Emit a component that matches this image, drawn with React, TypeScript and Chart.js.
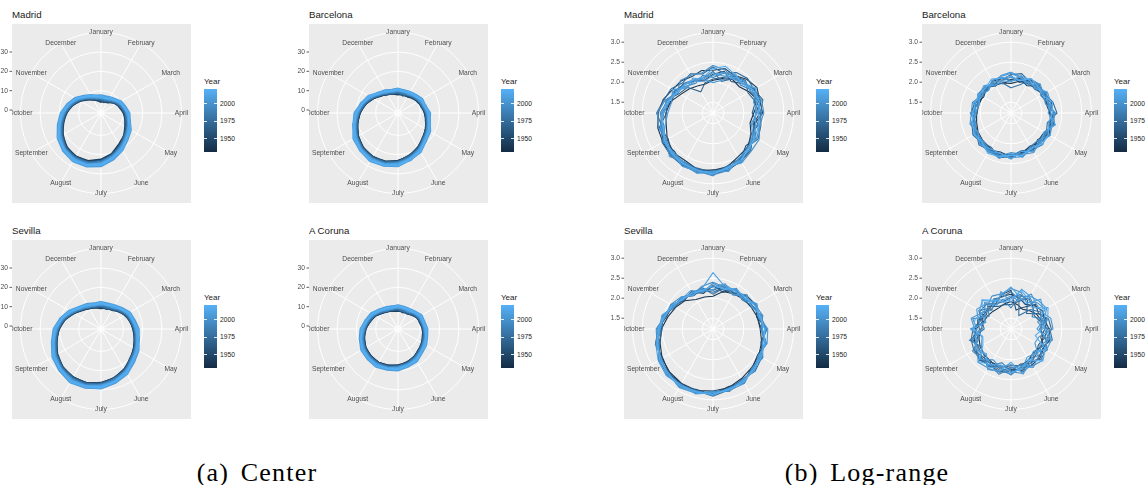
import React, { useEffect, useRef } from "react";
import { Chart, registerables } from "chart.js";

Chart.register(...registerables);

// ---- angular axis -------------------------------------------------------
const MONTHS = [
  "January", "February", "March", "April", "May", "June",
  "July", "August", "September", "October", "November", "December",
];
// two samples per month: the 1st and the 16th
const DAY_LABELS = MONTHS.flatMap((m) => [`1 ${m}`, `16 ${m}`]);

// ---- colour scale (Year) ---------------------------------------------
const YEARS = [1938, 1945, 1952, 1966, 1973, 1980, 1992, 1998, 2002, 2006, 2010, 2018];
const YEAR_MIN = 1931;
const YEAR_MAX = 2021;
const YEAR_TICKS = [1950, 1975, 2000];
const LOW_COLOR = [19, 43, 67]; // #132B43
const HIGH_COLOR = [86, 177, 247]; // #56B1F7

// ---- radial axes -------------------------------------------------------
const CENTER_TICKS = [0, 10, 20, 30];
const CENTER_TICK_LABELS = ["0", "10", "20", "30"];
const LOGRANGE_TICKS = [1.5, 2.0, 2.5, 3.0];
const LOGRANGE_TICK_LABELS = ["1.5", "2.0", "2.5", "3.0"];

// ---- (a) centre of the daily temperature interval, one row per year ----
const MADRID_CENTER = [
  [4.6, 4.9, 5.2, 6.9, 7.6, 9.4, 10.2, 12.1, 13.3, 15.8, 17.6, 20.9, 23.0, 24.7, 24.4, 24.1, 21.3, 19.4, 16.3, 14.4, 11.0, 8.9, 6.4, 5.7],
  [4.3, 5.2, 4.8, 6.5, 8.1, 8.7, 10.5, 11.5, 13.0, 15.4, 17.2, 20.4, 22.6, 24.2, 24.7, 23.5, 21.8, 18.7, 16.8, 13.8, 11.4, 8.2, 6.7, 5.2],
  [5.3, 4.4, 5.9, 6.3, 8.5, 8.9, 11.0, 11.6, 14.1, 15.2, 18.4, 20.5, 23.6, 24.6, 25.3, 23.7, 22.1, 18.9, 17.2, 13.9, 11.8, 8.6, 7.2, 5.5],
  [4.9, 5.6, 5.4, 7.1, 7.9, 9.8, 10.6, 12.4, 13.4, 16.1, 17.9, 21.2, 23.2, 25.1, 24.8, 24.6, 21.6, 19.7, 16.6, 14.8, 11.2, 9.3, 6.8, 6.1],
  [5.5, 5.4, 6.7, 7.3, 8.3, 10.0, 11.4, 12.6, 14.0, 16.0, 18.3, 21.5, 23.5, 25.4, 25.1, 24.9, 22.0, 20.0, 17.0, 15.0, 11.7, 9.5, 7.0, 6.3],
  [5.8, 5.1, 6.3, 6.8, 8.8, 9.5, 11.7, 12.0, 14.5, 15.6, 18.9, 21.0, 24.1, 24.9, 25.6, 24.2, 22.6, 19.3, 17.6, 14.2, 12.3, 8.9, 7.6, 6.0],
  [6.1, 5.9, 6.0, 7.8, 8.7, 10.6, 11.3, 13.3, 14.2, 16.8, 18.6, 22.1, 23.9, 26.0, 25.5, 25.3, 22.2, 20.6, 17.3, 15.6, 12.0, 10.1, 7.4, 6.9],
  [6.9, 6.4, 6.9, 8.2, 9.9, 10.4, 12.2, 13.7, 15.4, 16.9, 19.9, 22.6, 25.0, 26.5, 26.2, 25.7, 23.6, 20.5, 18.6, 15.9, 13.2, 10.5, 8.5, 7.4],
  [6.6, 6.2, 7.0, 7.5, 9.6, 10.2, 12.4, 12.9, 15.2, 16.4, 19.7, 21.6, 24.8, 25.6, 26.4, 24.8, 23.4, 20.1, 18.3, 15.0, 13.1, 9.6, 8.4, 6.6],
  [7.6, 7.3, 7.8, 8.6, 10.4, 11.4, 13.1, 13.8, 16.2, 17.8, 20.6, 23.2, 25.9, 27.0, 27.3, 26.1, 24.3, 21.5, 19.2, 16.4, 13.9, 10.9, 9.1, 7.8],
  [6.3, 6.9, 6.6, 8.4, 9.2, 11.1, 11.9, 13.9, 14.7, 17.5, 19.2, 22.8, 24.5, 26.7, 25.9, 25.9, 22.9, 21.2, 17.9, 16.2, 12.6, 10.7, 7.9, 7.5],
  [7.2, 6.5, 7.5, 8.0, 10.1, 10.7, 12.8, 13.4, 15.8, 17.1, 20.3, 22.4, 25.3, 26.3, 26.9, 25.4, 23.9, 20.8, 18.8, 15.7, 13.5, 10.3, 8.8, 7.2],
];

const BARCELONA_CENTER = [
  [8.4, 8.6, 8.5, 9.8, 10.2, 11.6, 12.3, 14.0, 15.0, 17.2, 19.1, 21.9, 23.2, 24.9, 24.6, 24.4, 22.3, 20.8, 18.2, 16.5, 13.4, 11.6, 9.6, 9.2],
  [8.1, 8.8, 8.3, 9.5, 10.7, 11.3, 12.6, 13.6, 15.3, 16.9, 19.3, 21.5, 23.6, 24.6, 24.8, 24.1, 22.6, 20.4, 18.4, 16.1, 13.6, 11.3, 9.8, 8.9],
  [9.0, 7.9, 9.1, 9.2, 10.9, 11.0, 13.0, 13.4, 15.7, 16.6, 19.8, 21.2, 23.8, 24.4, 25.2, 23.9, 22.9, 20.2, 18.9, 15.9, 14.0, 11.0, 10.1, 8.7],
  [8.7, 9.0, 8.9, 10.1, 10.6, 12.0, 12.7, 14.2, 15.3, 17.5, 19.4, 22.3, 23.5, 25.3, 24.9, 24.7, 22.6, 21.1, 18.5, 16.9, 13.8, 11.9, 9.9, 9.6],
  [9.2, 9.1, 9.3, 10.4, 10.9, 12.3, 13.1, 14.3, 15.9, 17.7, 19.9, 22.4, 24.0, 25.4, 25.3, 24.9, 23.0, 21.3, 19.0, 16.8, 14.3, 12.1, 10.2, 9.5],
  [9.4, 8.5, 9.6, 9.9, 11.2, 11.5, 13.4, 13.9, 16.0, 17.0, 20.1, 21.7, 24.2, 24.9, 25.6, 24.5, 23.3, 20.7, 19.2, 16.4, 14.4, 11.6, 10.5, 9.1],
  [9.8, 9.5, 9.4, 10.7, 11.1, 12.6, 13.2, 14.9, 15.8, 18.2, 19.9, 23.0, 24.1, 25.9, 25.5, 25.4, 23.1, 21.9, 19.0, 17.6, 14.2, 12.7, 10.3, 10.2],
  [10.4, 10.1, 10.5, 10.9, 12.1, 12.9, 14.0, 15.2, 16.5, 18.5, 20.8, 23.3, 24.9, 26.2, 26.1, 25.5, 24.0, 22.0, 19.9, 17.9, 15.0, 12.9, 11.0, 10.5],
  [10.2, 9.7, 10.3, 10.5, 12.0, 12.2, 14.1, 14.5, 16.7, 17.6, 20.9, 22.4, 25.0, 25.6, 26.3, 25.0, 24.1, 21.3, 20.0, 17.1, 15.2, 12.1, 11.2, 9.8],
  [11.0, 10.6, 11.0, 11.6, 12.9, 13.0, 15.0, 15.4, 17.6, 18.8, 21.8, 23.4, 25.9, 26.6, 27.2, 26.0, 25.0, 22.3, 20.9, 18.0, 16.1, 13.1, 12.0, 10.8],
  [9.9, 10.4, 9.9, 11.3, 11.6, 13.2, 13.6, 15.5, 16.3, 18.9, 20.5, 23.6, 24.6, 26.5, 25.9, 26.0, 23.6, 22.5, 19.5, 18.2, 14.8, 13.2, 10.8, 10.7],
  [10.7, 10.0, 10.8, 11.0, 12.5, 12.7, 14.6, 15.0, 17.2, 18.3, 21.4, 23.1, 25.5, 26.1, 26.8, 25.6, 24.5, 21.9, 20.4, 17.6, 15.7, 12.6, 11.6, 10.3],
];

const SEVILLA_CENTER = [
  [9.6, 9.9, 10.3, 11.9, 12.8, 14.5, 15.1, 16.9, 18.1, 20.6, 22.6, 25.2, 26.4, 27.8, 27.3, 26.8, 24.6, 22.9, 20.2, 18.2, 14.7, 12.7, 10.8, 10.4],
  [9.3, 10.0, 9.8, 11.6, 13.3, 14.1, 15.6, 16.6, 18.5, 20.2, 22.8, 24.9, 26.6, 27.4, 27.6, 26.6, 25.0, 22.5, 20.6, 17.9, 15.0, 12.4, 11.0, 10.1],
  [10.2, 9.2, 10.8, 11.3, 13.5, 14.0, 16.0, 16.4, 18.9, 19.9, 23.2, 24.7, 27.0, 27.5, 27.9, 26.4, 25.2, 22.2, 20.9, 17.7, 15.2, 12.2, 11.3, 10.0],
  [9.9, 10.3, 10.1, 12.2, 13.1, 14.8, 15.4, 17.3, 18.4, 21.0, 22.9, 25.6, 26.6, 28.2, 27.6, 27.1, 24.9, 23.2, 20.5, 18.6, 15.0, 13.1, 11.1, 10.7],
  [10.4, 10.4, 10.6, 12.4, 13.6, 15.0, 15.8, 17.6, 18.7, 21.1, 23.3, 25.8, 27.0, 28.3, 28.0, 27.3, 25.3, 23.4, 20.8, 18.9, 15.4, 13.3, 11.6, 10.9],
  [10.6, 9.8, 11.2, 11.9, 14.0, 14.4, 16.4, 16.9, 19.2, 20.3, 23.6, 25.1, 27.5, 27.9, 28.4, 26.9, 25.6, 22.7, 21.3, 18.1, 15.7, 12.7, 11.8, 10.4],
  [11.0, 10.8, 10.9, 13.0, 13.9, 15.5, 16.0, 18.2, 19.0, 21.8, 23.5, 26.4, 27.3, 29.0, 28.3, 28.0, 25.4, 24.0, 21.0, 19.4, 15.5, 13.9, 11.5, 11.4],
  [11.7, 11.3, 11.9, 13.4, 14.9, 15.6, 17.0, 18.5, 20.0, 21.9, 24.5, 26.8, 28.3, 29.3, 29.1, 28.4, 26.5, 24.2, 22.1, 19.7, 16.7, 14.1, 12.6, 11.8],
  [11.5, 11.1, 11.8, 12.6, 14.8, 15.1, 16.9, 17.5, 19.8, 21.0, 24.4, 25.9, 28.2, 28.7, 29.3, 27.6, 26.4, 23.4, 22.0, 18.9, 16.5, 13.3, 12.5, 11.0],
  [12.4, 12.0, 12.6, 13.7, 15.6, 16.4, 17.9, 18.6, 20.8, 22.6, 25.3, 27.2, 29.1, 29.9, 30.3, 28.8, 27.4, 24.7, 22.9, 20.1, 17.4, 14.5, 13.3, 12.1],
  [11.2, 11.7, 11.4, 13.5, 14.3, 16.0, 16.5, 18.7, 19.5, 22.4, 24.0, 27.0, 27.8, 29.6, 28.9, 28.6, 26.0, 24.6, 21.6, 20.0, 16.1, 14.4, 12.0, 11.9],
  [12.0, 11.4, 12.3, 13.1, 15.3, 15.7, 17.4, 18.1, 20.3, 21.7, 24.9, 26.6, 28.7, 29.2, 29.8, 28.1, 26.9, 24.0, 22.5, 19.4, 17.0, 13.9, 12.9, 11.6],
];

const CORUNA_CENTER = [
  [8.2, 8.0, 8.0, 9.3, 10.0, 10.8, 11.2, 12.3, 12.7, 14.1, 15.1, 16.7, 17.3, 18.5, 18.6, 18.8, 17.8, 17.1, 15.2, 14.1, 12.1, 10.7, 9.0, 8.9],
  [7.9, 8.4, 7.7, 9.0, 10.4, 10.5, 11.6, 11.8, 13.1, 13.8, 15.4, 16.5, 17.6, 18.0, 18.7, 18.4, 18.0, 16.8, 15.6, 13.6, 12.3, 10.2, 9.1, 8.3],
  [8.7, 7.5, 8.4, 8.8, 10.5, 10.3, 11.8, 11.9, 13.3, 13.6, 15.7, 16.3, 17.9, 18.2, 19.0, 18.3, 18.4, 16.6, 15.8, 13.5, 12.6, 10.3, 9.4, 8.4],
  [8.4, 8.3, 8.1, 9.6, 10.3, 11.1, 11.5, 12.5, 13.0, 14.4, 15.4, 17.0, 17.6, 18.8, 18.9, 19.1, 18.1, 17.4, 15.5, 14.5, 12.4, 11.0, 9.2, 9.2],
  [8.9, 8.6, 8.5, 9.8, 10.6, 11.4, 11.8, 12.8, 13.3, 14.7, 15.7, 17.3, 17.9, 19.0, 19.1, 19.3, 18.4, 17.6, 15.8, 14.7, 12.7, 11.2, 9.5, 9.4],
  [9.1, 8.2, 8.8, 9.4, 10.8, 10.8, 12.1, 12.3, 13.6, 14.1, 16.0, 16.8, 18.2, 18.6, 19.3, 18.8, 18.7, 17.1, 16.1, 14.0, 12.9, 10.7, 9.7, 8.8],
  [9.4, 9.1, 8.7, 10.2, 10.9, 11.8, 11.9, 13.2, 13.5, 15.1, 15.9, 17.7, 18.1, 19.4, 19.3, 19.8, 18.6, 18.1, 15.9, 15.2, 12.8, 11.8, 9.6, 9.9],
  [10.0, 9.6, 9.7, 10.5, 11.8, 12.1, 12.9, 13.5, 14.4, 15.5, 17.0, 18.0, 19.0, 19.7, 20.3, 20.1, 19.6, 18.4, 17.0, 15.4, 13.8, 12.0, 10.6, 10.2],
  [9.9, 9.4, 9.5, 10.1, 11.6, 11.5, 12.7, 13.0, 14.3, 14.8, 16.8, 17.4, 18.8, 19.1, 20.1, 19.4, 19.4, 17.7, 16.8, 14.7, 13.6, 11.3, 10.4, 9.4],
  [10.7, 10.3, 10.4, 11.1, 12.5, 12.6, 13.6, 14.0, 15.2, 15.9, 17.8, 18.5, 19.8, 20.2, 21.0, 20.5, 20.3, 18.9, 17.8, 15.8, 14.5, 12.5, 11.3, 10.5],
  [9.6, 10.1, 9.2, 10.8, 11.3, 12.3, 12.4, 13.8, 14.0, 15.7, 16.5, 18.3, 18.6, 19.9, 19.8, 20.4, 19.0, 18.7, 16.4, 15.8, 13.3, 12.4, 10.0, 10.4],
  [10.4, 9.8, 10.0, 10.6, 12.1, 12.0, 13.2, 13.5, 14.8, 15.4, 17.3, 18.0, 19.3, 19.6, 20.6, 19.9, 19.9, 18.3, 17.3, 15.2, 14.1, 11.9, 10.9, 9.9],
];

// ---- (b) log of the daily temperature range, one row per year ----------
const MADRID_LOGRANGE = [
  [2.05, 2.12, 2.20, 2.16, 2.28, 2.41, 2.25, 2.19, 2.33, 2.45, 2.49, 2.62, 2.66, 2.70, 2.61, 2.63, 2.55, 2.44, 2.41, 2.33, 2.16, 2.08, 2.01, 1.98],
  [2.30, 2.38, 2.31, 2.42, 2.50, 2.44, 2.47, 2.30, 2.38, 2.56, 2.62, 2.70, 2.76, 2.74, 2.72, 2.70, 2.68, 2.66, 2.60, 2.52, 2.40, 2.36, 2.28, 2.33],
  [2.20, 2.31, 2.14, 2.27, 2.43, 2.30, 2.40, 2.28, 2.47, 2.39, 2.60, 2.71, 2.65, 2.77, 2.73, 2.59, 2.66, 2.58, 2.52, 2.30, 2.33, 2.25, 2.15, 2.07],
  [2.08, 2.15, 2.29, 2.38, 2.24, 2.33, 2.21, 2.40, 2.31, 2.52, 2.55, 2.60, 2.74, 2.68, 2.66, 2.71, 2.52, 2.62, 2.39, 2.45, 2.20, 2.14, 1.84, 2.01],
  [2.38, 2.26, 2.40, 2.45, 2.41, 2.52, 2.42, 2.47, 2.53, 2.44, 2.56, 2.68, 2.72, 2.66, 2.75, 2.73, 2.70, 2.55, 2.64, 2.50, 2.44, 2.30, 2.36, 2.24],
  [2.27, 2.05, 2.22, 2.33, 2.40, 2.47, 2.31, 2.26, 2.44, 2.50, 2.63, 2.68, 2.69, 2.75, 2.76, 2.63, 2.63, 2.50, 2.55, 2.41, 2.29, 2.27, 2.19, 2.14],
  [2.12, 2.26, 2.31, 2.21, 2.37, 2.35, 2.45, 2.37, 2.36, 2.55, 2.53, 2.72, 2.77, 2.70, 2.68, 2.68, 2.58, 2.57, 2.46, 2.36, 2.35, 2.18, 2.09, 2.21],
  [2.42, 2.35, 2.24, 2.37, 2.31, 2.49, 2.50, 2.44, 2.56, 2.58, 2.67, 2.61, 2.80, 2.73, 2.64, 2.77, 2.59, 2.64, 2.62, 2.47, 2.26, 2.38, 2.32, 2.27],
  [2.24, 2.19, 2.27, 2.35, 2.32, 2.44, 2.36, 2.43, 2.50, 2.46, 2.66, 2.64, 2.72, 2.79, 2.72, 2.70, 2.64, 2.53, 2.50, 2.43, 2.24, 2.23, 2.17, 2.11],
  [1.99, 2.08, 2.36, 2.25, 2.47, 2.28, 2.34, 2.22, 2.39, 2.47, 2.53, 2.74, 2.68, 2.78, 2.67, 2.62, 2.67, 2.47, 2.36, 2.30, 2.40, 2.12, 2.24, 2.09],
  [2.17, 2.28, 2.21, 2.29, 2.46, 2.37, 2.29, 2.33, 2.42, 2.51, 2.59, 2.69, 2.71, 2.73, 2.77, 2.65, 2.61, 2.59, 2.47, 2.37, 2.30, 2.16, 2.14, 2.05],
  [2.34, 2.44, 2.34, 2.26, 2.39, 2.42, 2.38, 2.41, 2.45, 2.49, 2.62, 2.65, 2.75, 2.71, 2.70, 2.67, 2.62, 2.52, 2.53, 2.39, 2.26, 2.24, 2.20, 2.16],
];

const BARCELONA_LOGRANGE = [
  [1.97, 2.05, 2.08, 2.10, 2.15, 2.28, 2.18, 2.35, 2.19, 2.20, 2.21, 2.25, 2.28, 2.38, 2.25, 2.22, 2.18, 2.12, 2.09, 2.06, 2.05, 2.14, 2.03, 2.01],
  [2.07, 2.12, 2.02, 2.19, 2.22, 2.14, 2.20, 2.26, 2.33, 2.27, 2.18, 2.28, 2.33, 2.24, 2.30, 2.36, 2.23, 2.15, 2.23, 2.17, 2.02, 2.10, 2.09, 1.99],
  [2.16, 2.02, 2.19, 2.23, 2.11, 2.16, 2.30, 2.21, 2.31, 2.17, 2.33, 2.24, 2.37, 2.29, 2.35, 2.31, 2.27, 2.26, 2.12, 2.18, 2.08, 2.06, 2.15, 2.12],
  [2.04, 2.18, 2.10, 2.13, 2.25, 2.19, 2.22, 2.31, 2.22, 2.29, 2.23, 2.35, 2.26, 2.31, 2.28, 2.25, 2.21, 2.17, 2.20, 2.10, 2.15, 2.09, 2.05, 2.14],
  [2.19, 2.25, 2.14, 2.07, 2.19, 2.31, 2.38, 2.17, 2.25, 2.35, 2.29, 2.21, 2.31, 2.39, 2.22, 2.27, 2.33, 2.24, 2.07, 2.09, 2.18, 2.15, 2.00, 2.08],
  [1.86, 1.95, 2.16, 2.20, 2.18, 2.25, 2.27, 2.24, 2.28, 2.23, 2.30, 2.28, 2.34, 2.35, 2.33, 2.30, 2.25, 2.22, 2.14, 2.15, 2.10, 2.12, 2.07, 2.00],
  [2.13, 2.09, 2.12, 2.15, 2.22, 2.20, 2.33, 2.29, 2.24, 2.27, 2.26, 2.32, 2.30, 2.33, 2.30, 2.27, 2.23, 2.19, 2.18, 2.11, 2.14, 2.08, 2.12, 2.07],
  [2.03, 2.10, 2.21, 2.24, 2.09, 2.21, 2.29, 2.36, 2.21, 2.22, 2.37, 2.30, 2.22, 2.35, 2.36, 2.24, 2.20, 2.29, 2.22, 2.23, 2.09, 2.04, 2.18, 2.15],
  [2.22, 2.15, 2.04, 2.26, 2.17, 2.12, 2.34, 2.28, 2.36, 2.19, 2.20, 2.37, 2.25, 2.40, 2.32, 2.21, 2.31, 2.14, 2.25, 2.07, 2.19, 2.02, 2.16, 2.18],
  [2.25, 2.17, 2.09, 2.15, 2.26, 2.18, 2.23, 2.30, 2.35, 2.28, 2.25, 2.36, 2.35, 2.27, 2.34, 2.32, 2.27, 2.16, 2.13, 2.05, 2.14, 2.19, 2.07, 2.20],
  [2.01, 2.20, 2.17, 2.09, 2.28, 2.26, 2.16, 2.38, 2.18, 2.30, 2.34, 2.22, 2.38, 2.28, 2.26, 2.35, 2.18, 2.27, 2.10, 2.20, 2.06, 2.17, 2.03, 2.06],
  [2.15, 2.06, 2.23, 2.18, 2.13, 2.30, 2.27, 2.20, 2.31, 2.34, 2.24, 2.33, 2.29, 2.36, 2.39, 2.26, 2.29, 2.23, 2.19, 2.16, 2.16, 2.12, 2.21, 2.13],
];

const SEVILLA_LOGRANGE = [
  [2.05, 2.20, 2.25, 2.30, 2.33, 2.38, 2.41, 2.49, 2.55, 2.60, 2.66, 2.75, 2.78, 2.82, 2.80, 2.76, 2.70, 2.60, 2.52, 2.40, 2.31, 2.23, 2.08, 2.06],
  [2.30, 2.24, 2.28, 2.41, 2.46, 2.37, 2.44, 2.60, 2.52, 2.62, 2.76, 2.74, 2.84, 2.88, 2.81, 2.79, 2.68, 2.72, 2.60, 2.44, 2.39, 2.33, 2.25, 2.19],
  [2.33, 2.18, 2.40, 2.28, 2.47, 2.36, 2.58, 2.47, 2.66, 2.59, 2.79, 2.72, 2.88, 2.80, 2.90, 2.77, 2.80, 2.61, 2.63, 2.43, 2.44, 2.24, 2.31, 2.15],
  [2.20, 2.35, 2.27, 2.43, 2.35, 2.50, 2.45, 2.61, 2.56, 2.71, 2.69, 2.84, 2.80, 2.90, 2.82, 2.86, 2.71, 2.70, 2.53, 2.52, 2.33, 2.35, 2.19, 2.27],
  [2.15, 2.30, 2.37, 2.26, 2.38, 2.46, 2.57, 2.49, 2.64, 2.72, 2.68, 2.80, 2.91, 2.83, 2.86, 2.85, 2.78, 2.62, 2.50, 2.54, 2.34, 2.26, 2.29, 2.24],
  [2.10, 2.30, 2.36, 2.33, 2.44, 2.41, 2.53, 2.52, 2.62, 2.64, 2.75, 2.77, 2.85, 2.84, 2.87, 2.80, 2.76, 2.64, 2.58, 2.46, 2.40, 2.28, 2.26, 2.30],
  [2.28, 2.40, 2.21, 2.39, 2.38, 2.47, 2.47, 2.58, 2.58, 2.68, 2.70, 2.81, 2.81, 2.88, 2.83, 2.84, 2.73, 2.68, 2.55, 2.50, 2.36, 2.32, 2.22, 2.25],
  [2.40, 2.32, 2.24, 2.38, 2.45, 2.52, 2.43, 2.57, 2.61, 2.61, 2.80, 2.82, 2.79, 2.89, 2.92, 2.81, 2.74, 2.68, 2.65, 2.47, 2.45, 2.36, 2.22, 2.33],
  [2.38, 2.25, 2.36, 2.27, 2.48, 2.40, 2.56, 2.51, 2.67, 2.63, 2.78, 2.76, 2.89, 2.83, 2.91, 2.79, 2.79, 2.63, 2.62, 2.45, 2.43, 2.27, 2.30, 2.18],
  [2.22, 2.38, 2.33, 2.31, 2.50, 2.42, 2.60, 2.63, 2.54, 2.69, 2.74, 2.78, 2.87, 2.84, 2.85, 2.88, 2.81, 2.71, 2.58, 2.55, 2.37, 2.31, 2.34, 2.20],
  [2.64, 2.34, 2.30, 2.42, 2.34, 2.48, 2.46, 2.60, 2.57, 2.70, 2.71, 2.83, 2.82, 2.91, 2.84, 2.87, 2.72, 2.70, 2.55, 2.52, 2.35, 2.34, 2.21, 2.28],
  [2.31, 2.27, 2.39, 2.35, 2.43, 2.45, 2.52, 2.56, 2.63, 2.66, 2.76, 2.79, 2.86, 2.86, 2.88, 2.82, 2.77, 2.66, 2.60, 2.48, 2.41, 2.29, 2.27, 2.23],
];

const CORUNA_LOGRANGE = [
  [1.92, 1.86, 1.80, 1.88, 1.97, 2.02, 1.98, 2.06, 2.10, 2.04, 2.12, 2.18, 2.15, 2.22, 2.19, 2.16, 2.12, 2.06, 1.98, 1.94, 1.90, 1.86, 1.84, 1.88],
  [2.10, 2.04, 1.94, 2.06, 2.14, 2.10, 2.18, 2.24, 2.16, 2.22, 2.28, 2.24, 2.30, 2.34, 2.28, 2.32, 2.24, 2.18, 2.12, 2.06, 2.00, 1.98, 2.04, 2.08],
  [2.20, 1.72, 1.86, 2.10, 2.02, 2.16, 2.08, 2.00, 2.18, 2.26, 2.20, 2.30, 2.24, 2.18, 2.32, 2.26, 2.16, 2.22, 2.10, 1.96, 2.06, 1.92, 1.98, 2.12],
  [1.84, 1.94, 2.12, 2.00, 1.90, 1.98, 2.14, 2.10, 2.02, 2.12, 2.22, 2.14, 2.28, 2.26, 2.20, 2.34, 2.28, 2.10, 2.02, 2.10, 1.94, 2.04, 1.88, 1.86],
  [2.02, 2.12, 2.06, 1.78, 2.00, 2.20, 2.24, 2.16, 2.24, 2.30, 2.16, 2.22, 2.36, 2.30, 2.24, 2.22, 2.30, 2.26, 2.18, 2.02, 2.12, 2.10, 1.96, 1.94],
  [2.16, 2.00, 1.62, 1.92, 2.08, 2.04, 2.20, 2.30, 2.12, 2.06, 2.26, 2.34, 2.18, 2.34, 2.38, 2.18, 2.10, 2.30, 1.90, 1.98, 2.16, 1.96, 2.10, 2.06],
  [1.76, 2.08, 2.16, 2.04, 1.84, 2.14, 1.94, 2.12, 2.28, 2.18, 2.10, 2.38, 2.30, 2.10, 2.30, 2.28, 2.34, 2.04, 2.24, 1.90, 1.98, 2.16, 1.94, 2.00],
  [2.24, 2.18, 2.00, 2.16, 2.22, 1.92, 2.06, 2.22, 2.06, 2.34, 2.30, 2.16, 2.22, 2.40, 2.26, 2.14, 2.20, 2.16, 2.08, 2.22, 1.86, 2.06, 2.18, 2.14],
  [2.06, 1.96, 2.24, 2.12, 2.10, 2.26, 2.28, 1.96, 1.92, 2.20, 2.34, 2.20, 2.38, 2.24, 2.12, 2.30, 2.08, 1.98, 2.14, 2.26, 2.06, 1.90, 2.08, 1.98],
  [1.90, 2.26, 2.18, 2.22, 2.26, 2.08, 1.88, 2.18, 2.22, 2.10, 2.04, 2.28, 2.12, 2.20, 2.36, 2.40, 2.18, 2.24, 1.94, 2.08, 2.22, 2.12, 1.92, 2.20],
  [2.28, 2.06, 1.96, 2.28, 2.16, 2.00, 2.10, 2.28, 2.26, 2.02, 2.20, 2.40, 2.06, 2.32, 2.40, 2.10, 2.26, 2.12, 2.20, 1.88, 2.14, 2.24, 2.02, 2.12],
  [1.98, 2.22, 2.10, 1.98, 2.30, 2.18, 2.02, 1.86, 2.22, 2.36, 2.12, 2.26, 2.32, 2.16, 2.26, 2.38, 2.04, 1.96, 2.18, 2.16, 2.04, 2.26, 2.06, 1.92],
];

// ---- layout ------------------------------------------------------------
const PANEL = 179; // side of the grey polar panel
const PAD_L = 20;
const PAD_R = 2;
const PAD_T = 2;
const PAD_B = 2;
const FONT = '"Liberation Sans", Arial, sans-serif';
const GREY_TEXT = "#4D4D4D";

type RadialAxis = {
  min: number; // value at the centre
  max: number; // value at half the panel side
  outer: number; // outer ring that carries the month labels
  ticks: number[];
  tickLabels: string[];
};

const CENTER_AXIS: RadialAxis = {
  min: -1.55,
  max: 44.5,
  outer: 40.1,
  ticks: CENTER_TICKS,
  tickLabels: CENTER_TICK_LABELS,
};

const LOGRANGE_AXIS: RadialAxis = {
  min: 1.23,
  max: 3.455,
  outer: 3.2425,
  ticks: LOGRANGE_TICKS,
  tickLabels: LOGRANGE_TICK_LABELS,
};

function yearColor(year: number): string {
  const t = (year - YEAR_MIN) / (YEAR_MAX - YEAR_MIN);
  const c = LOW_COLOR.map((lo, i) => Math.round(lo + (HIGH_COLOR[i] - lo) * t));
  return `rgb(${c[0]}, ${c[1]}, ${c[2]})`;
}

function makePolarPanelPlugin(axis: RadialAxis) {
  return {
    id: "polarPanel",
    beforeDatasetsDraw(chart: any) {
      const { ctx, chartArea } = chart;
      const r = chart.scales.r;
      ctx.save();
      // grey panel
      ctx.fillStyle = "#EBEBEB";
      ctx.fillRect(chartArea.left, chartArea.top, chartArea.right - chartArea.left, chartArea.bottom - chartArea.top);
      // radial grid circles
      ctx.strokeStyle = "#FFFFFF";
      ctx.lineWidth = 1;
      [...axis.ticks, axis.outer].forEach((v) => {
        const d = r.getDistanceFromCenterForValue(v);
        ctx.beginPath();
        ctx.arc(r.xCenter, r.yCenter, d, 0, Math.PI * 2);
        ctx.stroke();
      });
      // month spokes
      MONTHS.forEach((_, m) => {
        const p = r.getPointPositionForValue(2 * m, axis.outer);
        ctx.beginPath();
        ctx.moveTo(r.xCenter, r.yCenter);
        ctx.lineTo(p.x, p.y);
        ctx.stroke();
      });
      // radial axis on the left side of the panel
      ctx.font = `6.7px ${FONT}`;
      ctx.textAlign = "right";
      ctx.textBaseline = "middle";
      axis.ticks.forEach((v, i) => {
        const y = r.yCenter - r.getDistanceFromCenterForValue(v);
        ctx.fillStyle = GREY_TEXT;
        ctx.fillText(axis.tickLabels[i], chartArea.left - 4, y);
        ctx.strokeStyle = "#333333";
        ctx.lineWidth = 0.8;
        ctx.beginPath();
        ctx.moveTo(chartArea.left - 2.5, y);
        ctx.lineTo(chartArea.left, y);
        ctx.stroke();
      });
      ctx.restore();
    },
    afterDatasetsDraw(chart: any) {
      const { ctx, chartArea } = chart;
      const r = chart.scales.r;
      ctx.save();
      ctx.beginPath();
      ctx.rect(chartArea.left, chartArea.top, chartArea.right - chartArea.left, chartArea.bottom - chartArea.top);
      ctx.clip();
      ctx.font = `6.7px ${FONT}`;
      ctx.fillStyle = GREY_TEXT;
      ctx.textAlign = "center";
      ctx.textBaseline = "middle";
      MONTHS.forEach((name, m) => {
        const p = r.getPointPositionForValue(2 * m, axis.outer);
        ctx.fillText(name, p.x, p.y);
      });
      ctx.restore();
    },
  };
}

type PanelProps = {
  left: number;
  top: number;
  title: string;
  series: number[][];
  axis: RadialAxis;
  lineWidth: number;
};

function PolarPanel({ left, top, title, series, axis, lineWidth }: PanelProps) {
  const canvasRef = useRef<HTMLCanvasElement | null>(null);
  const width = PANEL + PAD_L + PAD_R;
  const height = PANEL + PAD_T + PAD_B;

  useEffect(() => {
    if (!canvasRef.current) return;
    const chart = new Chart(canvasRef.current, {
      type: "radar",
      data: {
        labels: DAY_LABELS,
        datasets: YEARS.map((year, i) => ({
          label: String(year),
          data: series[i],
          borderColor: yearColor(year),
          backgroundColor: "transparent",
          borderWidth: lineWidth,
          pointRadius: 0,
          fill: false,
          order: YEARS.length - i, // later years are drawn on top
        })),
      },
      options: {
        animation: false,
        responsive: false,
        maintainAspectRatio: false,
        layout: { padding: { left: PAD_L, right: PAD_R, top: PAD_T, bottom: PAD_B } },
        plugins: { legend: { display: false }, tooltip: { enabled: false }, title: { display: false } },
        elements: { line: { tension: 0 }, point: { radius: 0 } },
        scales: {
          r: {
            min: axis.min,
            max: axis.max,
            startAngle: 0,
            ticks: { display: false },
            grid: { display: false },
            angleLines: { display: false },
            pointLabels: { display: false },
          },
        },
      },
      plugins: [makePolarPanelPlugin(axis)],
    } as any);
    return () => chart.destroy();
  }, [series, axis, lineWidth]);

  const barLeft = left + PANEL + 13;
  const barTop = top + 65;
  const barHeight = 63;
  const barWidth = 13;

  return (
    <>
      <div
        style={{
          position: "absolute",
          left,
          top: top - 14,
          fontFamily: FONT,
          fontSize: 9.7,
          lineHeight: "10px",
          color: "#1A1A1A",
          whiteSpace: "nowrap",
        }}
      >
        {title}
      </div>
      <canvas
        ref={canvasRef}
        width={width}
        height={height}
        style={{ position: "absolute", left: left - PAD_L, top: top - PAD_T, width, height }}
      />
      <div
        style={{
          position: "absolute",
          left: barLeft,
          top: top + 53,
          fontFamily: FONT,
          fontSize: 8,
          lineHeight: "10px",
          color: "#1A1A1A",
        }}
      >
        Year
      </div>
      <div
        style={{
          position: "absolute",
          left: barLeft,
          top: barTop,
          width: barWidth,
          height: barHeight,
          background: "linear-gradient(to top, #132B43, #56B1F7)",
        }}
      />
      {YEAR_TICKS.map((yr) => {
        const y = barTop + barHeight * (1 - (yr - YEAR_MIN) / (YEAR_MAX - YEAR_MIN));
        return (
          <React.Fragment key={yr}>
            <div style={{ position: "absolute", left: barLeft, top: y - 0.5, width: 2.6, height: 1, background: "rgba(255,255,255,0.85)" }} />
            <div style={{ position: "absolute", left: barLeft + barWidth - 2.6, top: y - 0.5, width: 2.6, height: 1, background: "rgba(255,255,255,0.85)" }} />
            <div
              style={{
                position: "absolute",
                left: barLeft + barWidth + 3,
                top: y - 5,
                fontFamily: FONT,
                fontSize: 6.7,
                lineHeight: "10px",
                color: "#1A1A1A",
              }}
            >
              {yr}
            </div>
          </React.Fragment>
        );
      })}
    </>
  );
}

const CAPTION_FONT = '"Liberation Serif", "Times New Roman", serif';

const captionStyle: React.CSSProperties = {
  position: "absolute",
  top: 460,
  width: 400,
  textAlign: "center",
  fontFamily: CAPTION_FONT,
  fontSize: 26,
  lineHeight: "26px",
  letterSpacing: 1.2,
  wordSpacing: 4,
  color: "#000",
  whiteSpace: "nowrap",
};

export default function App() {
  return (
    <div
      style={{
        position: "absolute",
        left: 0,
        top: 0,
        width: 1146,
        height: 485,
        background: "#FFFFFF",
        overflow: "hidden",
      }}
    >
      <PolarPanel left={12} top={24} title="Madrid" series={MADRID_CENTER} axis={CENTER_AXIS} lineWidth={2.3} />
      <PolarPanel left={309} top={24} title="Barcelona" series={BARCELONA_CENTER} axis={CENTER_AXIS} lineWidth={2.3} />
      <PolarPanel left={12} top={240} title="Sevilla" series={SEVILLA_CENTER} axis={CENTER_AXIS} lineWidth={2.3} />
      <PolarPanel left={309} top={240} title="A Coruna" series={CORUNA_CENTER} axis={CENTER_AXIS} lineWidth={2.3} />

      <PolarPanel left={624} top={24} title="Madrid" series={MADRID_LOGRANGE} axis={LOGRANGE_AXIS} lineWidth={1.1} />
      <PolarPanel left={922} top={24} title="Barcelona" series={BARCELONA_LOGRANGE} axis={LOGRANGE_AXIS} lineWidth={1.1} />
      <PolarPanel left={624} top={240} title="Sevilla" series={SEVILLA_LOGRANGE} axis={LOGRANGE_AXIS} lineWidth={1.1} />
      <PolarPanel left={922} top={240} title="A Coruna" series={CORUNA_LOGRANGE} axis={LOGRANGE_AXIS} lineWidth={1.1} />

      <div style={{ ...captionStyle, left: 57 }}>(a) Center</div>
      <div style={{ ...captionStyle, left: 667 }}>(b) Log-range</div>
    </div>
  );
}
